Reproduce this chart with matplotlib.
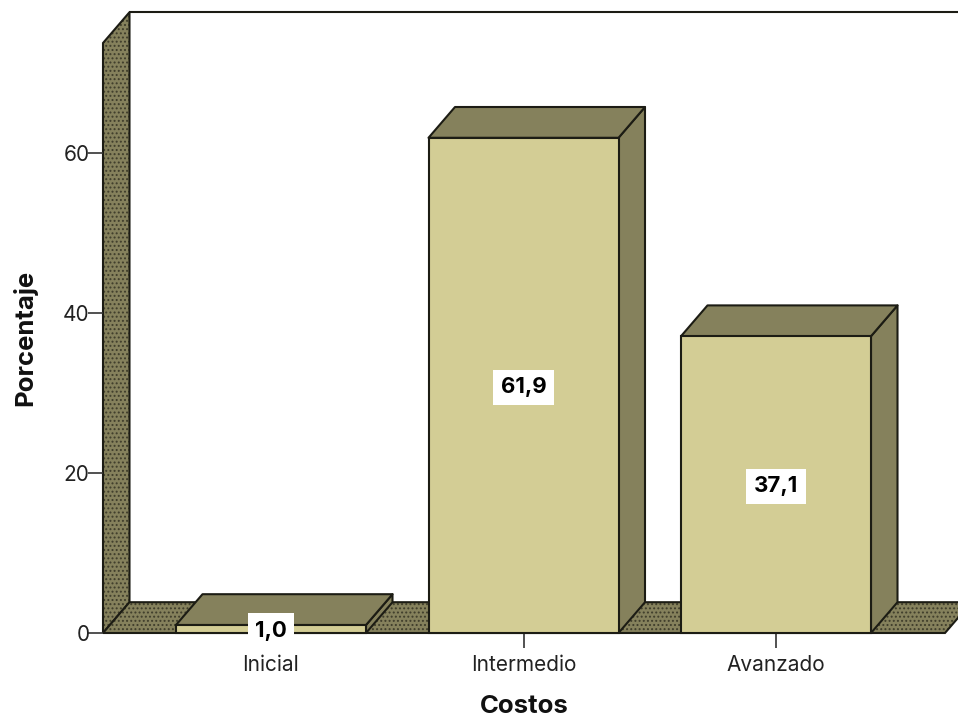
import matplotlib
matplotlib.use("Agg")
import matplotlib.pyplot as plt
from matplotlib.patches import Polygon, Rectangle

categories = ["Inicial", "Intermedio", "Avanzado"]
percentages = [1.0, 61.9, 37.1]
value_labels = ["1,0", "61,9", "37,1"]
y_ticks = [0, 20, 40, 60]

FRONT = "#d3cd95"
SHADE = "#85815c"
EDGE = "#1c1c14"
FONT = "Inter"

W, H = 958, 719
fig = plt.figure(figsize=(W / 100, H / 100), dpi=100)
plt.rcParams["hatch.linewidth"] = 0.9

# Axes box is the front plane of the 3D frame
left, right, bottom, top = 103, 945, 633, 43
ax = fig.add_axes([left / W, 1 - bottom / H, (right - left) / W, (bottom - top) / H])
ax.set_xlim((left - 271) / 252.5, (right - 271) / 252.5)
ax.set_ylim(0, (bottom - top) / 8)
ax.patch.set_visible(False)
for s in ax.spines.values():
    s.set_visible(False)

x0, x1 = ax.get_xlim()
y0, y1 = ax.get_ylim()
dx, dy = 26.5 / 252.5, 3.85   # depth of the 3D extrusion
bar_w = 190 / 252.5


def poly(pts, fc, hatch=None, z=1.0):
    """Filled polygon with a dark outline; hatch is laid in a separate pass."""
    if hatch:
        ax.add_patch(Polygon(pts, closed=True, facecolor=fc, edgecolor="#3f3d2b",
                             hatch=hatch, lw=0, zorder=z, clip_on=False))
        ax.add_patch(Polygon(pts, closed=True, fill=False, edgecolor=EDGE,
                             lw=1.5, zorder=z + 0.01, clip_on=False))
    else:
        ax.add_patch(Polygon(pts, closed=True, facecolor=fc, edgecolor=EDGE,
                             lw=1.5, joinstyle="round", zorder=z, clip_on=False))


# Back wall outline, side wall and floor
ax.plot([x0 + dx, x1 + dx], [y1 + dy, y1 + dy], color=EDGE, lw=1.5, zorder=0.9, clip_on=False)
poly([(x0, y0), (x0 + dx, y0 + dy), (x0 + dx, y1 + dy), (x0, y1)], SHADE, "....", 1.0)
poly([(x0, y0), (x1, y0), (x1 + dx, y0 + dy), (x0 + dx, y0 + dy)], SHADE, "....", 1.1)

# Bars: front face, right side and top
for i, v in enumerate(percentages):
    l, r = i - bar_w / 2, i + bar_w / 2
    z = 2 + i
    poly([(r, 0), (r + dx, dy), (r + dx, v + dy), (r, v)], SHADE, z=z)
    poly([(l, v), (r, v), (r + dx, v + dy), (l + dx, v + dy)], SHADE, z=z)
    ax.add_patch(Rectangle((l, 0), bar_w, v, facecolor=FRONT, edgecolor=EDGE, lw=1.5,
                           zorder=z + 0.1, clip_on=False))

# Value labels sit at the middle of each bar on a white box
for i, (v, txt) in enumerate(zip(percentages, value_labels)):
    ax.annotate(txt, (i, v / 2), xytext=(0, -1.2), textcoords="offset points",
                ha="center", va="center", family=FONT, fontweight="bold",
                fontsize=16, color="black", zorder=10,
                bbox=dict(facecolor="white", edgecolor="none", pad=5.5))

ax.set_xticks(range(len(categories)))
ax.set_xticklabels(categories, family=FONT, fontsize=15, color="#222222")
ax.set_yticks(y_ticks)
ax.set_yticklabels([str(t) for t in y_ticks], family=FONT, fontsize=15, color="#222222")
ax.tick_params(axis="both", length=10.8, width=1.2, color="#333333", pad=-1)
ax.tick_params(axis="x", pad=5)
for t in ax.get_xticklines() + ax.get_yticklines():
    t.set_zorder(0.5)

fig.text(524 / W, 1 - 706.5 / H, "Costos", ha="center", va="center", family=FONT,
         fontweight="bold", fontsize=18.5, color="#111111")
fig.text(25 / W, 1 - 338 / H, "Porcentaje", ha="center", va="center", rotation=90,
         family=FONT, fontweight="bold", fontsize=18.5, color="#111111")

fig.savefig("out.png", dpi=100)
